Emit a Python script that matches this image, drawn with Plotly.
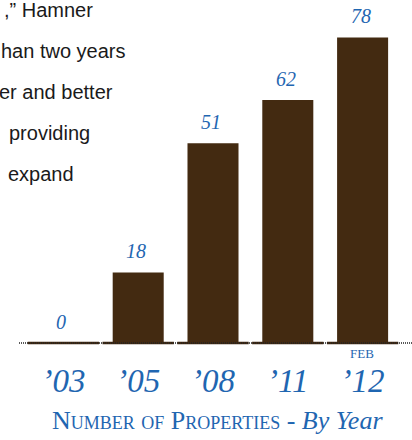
import plotly.graph_objects as go

# ---- data ----
years = ["’03", "’05", "’08", "’11", "’12"]
properties = [0, 18, 51, 62, 78]
value_labels = ["0", "18", "51", "62", "78"]
tick_note = "FEB"
title_caps = "Number of Properties - "
title_italic = "By Year"
side_text = [",” Hamner", "han two years", "er and better", "providing", "expand"]

# ---- style / layout ----
W, H = 412, 440
ML, MR, MT, MB = 26, 12, 30, 97
PW, PH = W - ML - MR, H - MT - MB
BROWN = "#432a11"
BLUE = "#1f66b1"
SERIF = "Liberation Serif"


def px2x(px):
    return (px - ML) / PW


def py2y(py):
    return (H - MB - py) / PH


fig = go.Figure()
fig.add_trace(go.Bar(
    x=years, y=properties,
    marker=dict(color=BROWN, line=dict(width=0)),
    hoverinfo="skip",
))
# thin base strokes so a zero-height bar still shows
fig.add_trace(go.Scatter(
    x=years, y=[min(v, 0) for v in properties],
    mode="markers",
    marker=dict(symbol="line-ew", size=51, line=dict(width=2.5, color=BROWN)),
    cliponaxis=False, hoverinfo="skip",
))

annotations = []
for cat, v, lab in zip(years, properties, value_labels):
    annotations.append(dict(
        x=cat, y=v, xref="x", yref="y", text=lab, showarrow=False,
        yanchor="middle", xanchor="center", yshift=21, xshift=-2,
        font=dict(family=SERIF, size=20, color=BLUE, style="italic"),
    ))

annotations.append(dict(
    x=years[-1], y=py2y(353), xref="x", yref="paper", text=tick_note,
    showarrow=False, xanchor="center", yanchor="middle", xshift=-1,
    font=dict(family=SERIF, size=13, color=BLUE),
))

annotations.append(dict(
    x=px2x(217), y=py2y(421), xref="paper", yref="paper",
    text=title_caps + "<span style='font-variant:normal'><i>" + title_italic + "</i></span>",
    showarrow=False, xanchor="center", yanchor="middle",
    font=dict(family=SERIF, size=26, color=BLUE, variant="small-caps"),
))

side_right = [95, 128, 115, 92, 76]
side_y = [10, 51, 92, 133, 174]
for t, rx, cy in zip(side_text, side_right, side_y):
    annotations.append(dict(
        x=px2x(rx), y=py2y(cy), xref="paper", yref="paper", text=t,
        showarrow=False, xanchor="right", yanchor="middle",
        font=dict(family="Liberation Sans", size=20, color="#1a1a1a"),
    ))

fig.update_layout(
    width=W, height=H,
    margin=dict(l=ML, r=MR, t=MT, b=MB, pad=0, autoexpand=False),
    paper_bgcolor="white", plot_bgcolor="white",
    showlegend=False,
    bargap=0.318,
    xaxis=dict(
        type="category", range=[-0.5, len(years) - 0.5], automargin=False,
        showgrid=False, zeroline=False, showline=False,
        ticks="", tickfont=dict(family=SERIF, size=33, color=BLUE, style="italic"),
        ticklabelstandoff=15,
    ),
    yaxis=dict(range=[0, PH / 3.918], visible=False, showgrid=False, zeroline=False),
    annotations=annotations,
    shapes=[dict(
        type="line", xref="paper", yref="paper",
        x0=px2x(19), x1=px2x(412), y0=0, y1=0,
        line=dict(color="#222222", width=1.5, dash="1px,1px"),
        layer="above",
    )],
)

fig.write_html("out.html")
